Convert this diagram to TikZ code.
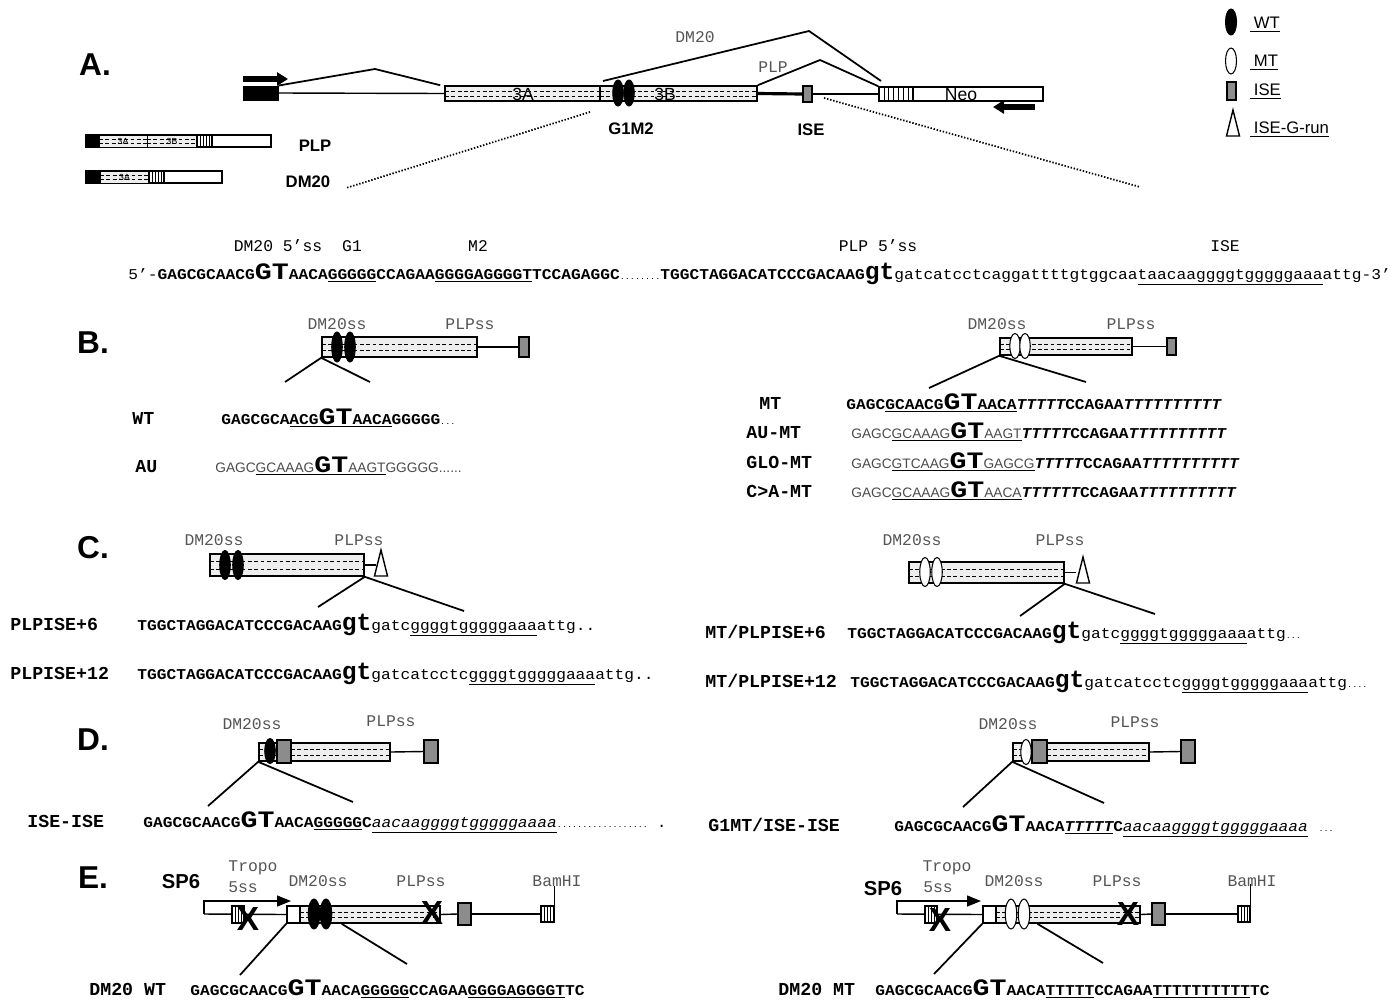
\documentclass[tikz,border=0pt]{standalone}
\usepackage{fontspec}
\setmainfont{Liberation Sans}
\newfontfamily\courfont{Liberation Mono}
\newfontfamily\seqfont[FakeStretch=1.08]{Liberation Mono}
\newfontfamily\widefont[FakeStretch=1.2]{Liberation Mono}
\usetikzlibrary{positioning,calc,arrows.meta,fit,shapes.geometric}
\definecolor{ink}{RGB}{0,0,0}
\definecolor{ssgray}{RGB}{85,85,85}
\definecolor{seqgray}{RGB}{75,75,75}
\definecolor{isegray}{RGB}{140,140,140}
\definecolor{exfill}{RGB}{238,238,238}
\tikzset{
  exon/.style={draw=ink, line width=0.9pt, fill=exfill, inner sep=0pt,
    path picture={
      \foreach \f in {0.35,0.68}{
        \draw[ink, line width=0.35pt, dash pattern=on 2.2pt off 1.4pt]
          ($(path picture bounding box.north west)!\f!(path picture bounding box.south west)$) --
          ($(path picture bounding box.north east)!\f!(path picture bounding box.south east)$);
      }}},
  minexon/.style={exon, line width=0.5pt},
  whitebox/.style={draw=ink, line width=0.9pt, fill=white, inner sep=0pt},
  blackbox/.style={draw=ink, line width=0.5pt, fill=ink, inner sep=0pt},
  isebox/.style={draw=ink, line width=0.9pt, fill=isegray, inner sep=0pt},
  stripebox/.style={draw=ink, line width=0.6pt, fill=white, inner sep=0pt,
    path picture={
      \foreach \i in {1,...,#1}{
        \pgfmathsetmacro\ff{\i/(#1+1)}
        \draw[ink, line width=0.4pt]
          ($(path picture bounding box.north west)!\ff!(path picture bounding box.north east)$) --
          ($(path picture bounding box.south west)!\ff!(path picture bounding box.south east)$);
      }}},
  stripebox/.default=3,
  wtdot/.style={ellipse, draw=ink, fill=ink, line width=0.6pt, minimum width=0.21cm, minimum height=0.5cm, inner sep=0pt},
  mtdot/.style={wtdot, fill=white},
  grun/.pic={\draw[line width=0.8pt, fill=white] (-6.5,0) -- (0,-26) -- (6.5,0) -- cycle;},
  panel/.style={font=\bfseries\fontsize{18}{18}\selectfont, inner sep=0pt},
  lbl/.style={font=\bfseries\fontsize{9.5}{10}\selectfont, inner sep=0pt},
  boxtxt/.style={font=\fontsize{10}{10}\selectfont, inner sep=0pt},
  tinytxt/.style={font=\fontsize{5}{5}\selectfont, inner sep=0pt},
  sslab/.style={font=\courfont\fontsize{9.3}{10}\selectfont, text=ssgray, inner sep=0pt},
  seqlab/.style={sslab, text=ink},
  rowlab/.style={font=\courfont\bfseries\fontsize{10.4}{11}\selectfont, anchor=base west, inner sep=0pt},
  seq/.style={anchor=base west, inner sep=0pt},
  legtxt/.style={font=\fontsize{9.5}{10}\selectfont, anchor=west, inner sep=0pt},
  sptext/.style={font=\bfseries\fontsize{11.5}{11.5}\selectfont, inner sep=0pt},
  xmark/.style={font=\bfseries\fontsize{19}{19}\selectfont, inner sep=0pt},
  intron/.style={line width=0.8pt},
  splice/.style={line width=1pt},
  zoomline/.style={line width=1pt},
  dotlink/.style={line width=1pt, dash pattern=on 0.8pt off 1pt},
  fatarrow/.style={line width=3pt, -{Triangle[length=0.22cm, width=0.26cm]}},
  bentarrow/.style={line width=0.8pt, -{Triangle[length=0.28cm, width=0.22cm]}},
}
% sequence fonts
\newcommand{\sq}[1]{{\seqfont\bfseries\fontsize{8.55}{9}\selectfont #1}}
\newcommand{\sqi}[1]{{\seqfont\bfseries\itshape\fontsize{8.55}{9}\selectfont #1}}
\newcommand{\lc}[1]{{\seqfont\fontsize{8.55}{9}\selectfont #1}}
\newcommand{\lci}[1]{{\seqfont\itshape\fontsize{8.55}{9}\selectfont #1}}
\newcommand{\gy}[1]{{\color{seqgray}\fontsize{7.8}{9}\selectfont #1}}
\newcommand{\dotrun}[1]{{\widefont\fontsize{4}{5}\selectfont #1}}
\newcommand{\capGT}{{\widefont\bfseries\fontsize{13.4}{14}\selectfont GT}}
\newcommand{\lowGT}{{\courfont\bfseries\fontsize{14}{14}\selectfont gt}}
% box from two corners
\newcommand{\Piece}[6]{%
  \coordinate (#2-tl) at (#3,#4); \coordinate (#2-br) at (#5,#6);
  \node[#1, fit=(#2-tl)(#2-br)] (#2) {};}

\begin{document}
\begin{tikzpicture}[x=0.02cm,y=-0.02cm]
  \fill[white, use as bounding box] (0,0) rectangle (1398,1001);

  % A: minigene
  \node[panel] (pA) at (95,65) {A.};
  \draw[fatarrow] (243,79) -- (288,79);
  \Piece{blackbox}{ex1}{243}{86}{278}{100}
  \Piece{exon}{e3A}{445}{86}{600}{101}
  \Piece{exon}{e3B}{600}{86}{757}{101}
  \node[boxtxt] at (523,94) {3A};
  \node[boxtxt] at (665,94) {3B};
  \node[wtdot, minimum height=0.52cm] (aG1) at (618,93) {};
  \node[wtdot, minimum height=0.52cm] (aM2) at (629,93) {};
  \Piece{isebox}{aISE}{803}{86}{812}{102}
  \Piece{whitebox}{neo}{879}{87}{1043}{101}
  \Piece{stripebox=6}{neoS}{879}{87}{913}{101}
  \node[boxtxt] at (961,95) {Neo};
  \draw[intron] (ex1.east) -- (e3A.west);
  \draw[line width=1.8pt] (e3B.east) -- (aISE.west);
  \draw[intron] (aISE.east) -- (neo.west);
  \draw[splice] (ex1.north east) -- (375,69) -- ([xshift=-0.08cm]e3A.north west);
  \draw[splice] (603,81) -- (809,31) -- (881,81);
  \draw[splice] (e3B.north east) -- (820,60) -- (neo.north west);
  \draw[fatarrow] (1035,107) -- (993,107);
  \node[sslab] at (695,37) {DM20};
  \node[sslab] at (773,67) {PLP};
  \node[lbl] at (631,129) {G1M2};
  \node[lbl] at (811,130) {ISE};

  % A: spliced products
  \Piece{whitebox}{tPLP}{86}{135}{271}{147}
  \Piece{blackbox}{tPLP1}{86}{135}{99}{147}
  \Piece{minexon}{tPLPa}{99}{135}{147}{147}
  \Piece{minexon}{tPLPb}{147}{135}{197}{147}
  \Piece{stripebox=4}{tPLPs}{197}{135}{212}{147}
  \node[tinytxt] at (tPLPa) {3A};
  \node[tinytxt] at (tPLPb) {3B};
  \node[lbl] at (315,146) {PLP};
  \Piece{whitebox}{tDM}{86}{171}{222}{183}
  \Piece{blackbox}{tDM1}{86}{171}{100}{183}
  \Piece{minexon}{tDMa}{100}{171}{149}{183}
  \Piece{stripebox=4}{tDMs}{149}{171}{164}{183}
  \node[tinytxt] at (tDMa) {3A};
  \node[lbl] at (308,182) {DM20};
  \coordinate (dotA1) at (590,112); \coordinate (dotA2) at (346,188);
  \draw[dotlink] (dotA1) -- (dotA2);
  \coordinate (dotB1) at (824,98); \coordinate (dotB2) at (1140,187);
  \draw[dotlink] (dotB1) -- (dotB2);

  % legend
  \node[wtdot, minimum height=0.52cm, minimum width=0.22cm] (legWT) at (1231,22) {};
  \node[legtxt] at (1250,25) {\underline{\hspace{2pt}WT}};
  \node[mtdot, minimum height=0.52cm, minimum width=0.22cm] (legMT) at (1231,61) {};
  \node[legtxt] at (1250,63) {\underline{\hspace{2pt}MT}};
  \Piece{isebox}{legISE}{1227}{82}{1236}{100}
  \node[legtxt] at (1250,92) {\underline{\hspace{2pt}ISE}};
  \pic (legG) at (1233,136) {grun};
  \node[legtxt] at (1250,130) {\underline{\hspace{2pt}ISE-G-run}};

  % A: sequence
  \node[seqlab] at (278,246) {DM20 5’ss};
  \node[seqlab] at (352,246) {G1};
  \node[seqlab] at (478,246) {M2};
  \node[seqlab] at (878,246) {PLP 5’ss};
  \node[seqlab] at (1225,246) {ISE};
  \node[seq] (seqMain) at (128,279) {\lc{5’-}\sq{GAGCGCAACG}\capGT\sq{AACA\underline{GGGGG}CCAGAA\underline{GGGGAGGGGT}TCCAGAGGC}\dotrun{........}\sq{TGGCTAGGACATCCCGACAAG}\lowGT\lc{gatcatcctcaggattttgtggcaa\underline{taacaaggggtgggggaaa}attg-3’}};

  % B
  \node[panel] (pB) at (93,343) {B.};
  \Piece{exon}{bWex}{322}{337}{477}{357}
  \node[wtdot, minimum height=0.6cm] (bWg) at (337,347) {};
  \node[wtdot, minimum height=0.6cm] (bWm) at (350,347) {};
  \Piece{isebox}{bWise}{519}{337}{529}{357}
  \draw[intron] (bWex.east) -- (bWise.west);
  \node[sslab] at (337,324) {DM20ss};
  \node[sslab] at (470,324) {PLPss};
  \coordinate (bWz1) at (285,382); \coordinate (bWz2) at (370,382);
  \draw[zoomline] (bWz1) -- (bWex.south west) -- (bWz2);
  \node[rowlab] at (132,424) {WT};
  \node[seq] at (221,424) {\sq{GAGCGCA\underline{ACG\capGT AACA}GGGGG}\dotrun{...}};
  \node[rowlab] at (135,472) {AU};
  \node[seq] at (215,472) {\gy{GAGC}\underline{\gy{GCAAAG}\capGT\gy{AAGT}}\gy{GGGGG......}};

  \Piece{exon}{bMex}{1000}{338}{1132}{355}
  \node[mtdot] (bMg) at (1015,346) {};
  \node[mtdot] (bMm) at (1025,346) {};
  \Piece{isebox}{bMise}{1167}{338}{1176}{355}
  \draw[intron] (bMex.east) -- (bMise.west);
  \node[sslab] at (997,324) {DM20ss};
  \node[sslab] at (1131,324) {PLPss};
  \coordinate (bMz1) at (929,388); \coordinate (bMz2) at (1086,382);
  \draw[zoomline] (bMz1) -- (bMex.south west) -- (bMz2);
  \node[rowlab] at (759,409) {MT};
  \node[seq] at (846,409) {\sq{GAGC}\underline{\sq{GCAACG}\capGT\sq{AACA}}\sqi{TTTTT}\sq{CCAGAA}\sqi{TTTTTTTTTT}};
  \node[rowlab] at (746,438) {AU-MT};
  \node[seq] at (851,438) {\gy{GAGC}\underline{\gy{GCAAAG}\capGT\gy{AAGT}}\sqi{TTTTT}\sq{CCAGAA}\sqi{TTTTTTTTTT}};
  \node[rowlab] at (746,468) {GLO-MT};
  \node[seq] at (851,468) {\gy{GAGC}\underline{\gy{GTCAAG}\capGT\gy{GAGCG}}\sqi{TTTTT}\sq{CCAGAA}\sqi{TTTTTTTTTT}};
  \node[rowlab] at (746,497) {C>A-MT};
  \node[seq] at (851,497) {\gy{GAGC}\underline{\gy{GCAAAG}\capGT\gy{AACA}}\sqi{TTTTTT}\sq{CCAGAA}\sqi{TTTTTTTTTT}};

  % C
  \node[panel] (pC) at (93,548) {C.};
  \Piece{exon}{cWex}{210}{554}{364}{576}
  \node[wtdot, minimum height=0.58cm] (cWg) at (225,565) {};
  \node[wtdot, minimum height=0.58cm] (cWm) at (238,565) {};
  \draw[intron] (cWex.east) -- ++(11,0);
  \pic (cWt) at (381,576) {grun};
  \node[sslab] at (214,540) {DM20ss};
  \node[sslab] at (359,540) {PLPss};
  \coordinate (cWz1) at (318,607); \coordinate (cWz2) at (464,611);
  \draw[zoomline] (cWz1) -- (cWex.south east) -- (cWz2);
  \node[rowlab] at (10,630) {PLPISE+6};
  \node[seq] at (137,630) {\sq{TGGCTAGGACATCCCGACAAG}\lowGT\lc{gatc\underline{ggggtgggggaaa}attg..}};
  \node[rowlab] at (10,679) {PLPISE+12};
  \node[seq] at (137,679) {\sq{TGGCTAGGACATCCCGACAAG}\lowGT\lc{gatcatcctc\underline{ggggtgggggaaa}attg..}};

  \Piece{exon}{cMex}{909}{562}{1064}{583}
  \node[mtdot, minimum height=0.58cm] (cMg) at (925,572) {};
  \node[mtdot, minimum height=0.58cm] (cMm) at (937,572) {};
  \draw[intron] (cMex.east) -- ++(11,0);
  \pic (cMt) at (1083,583) {grun};
  \node[sslab] at (912,540) {DM20ss};
  \node[sslab] at (1060,540) {PLPss};
  \coordinate (cMz1) at (1020,616); \coordinate (cMz2) at (1155,614);
  \draw[zoomline] (cMz1) -- (cMex.south east) -- (cMz2);
  \node[rowlab] at (705,638) {MT/PLPISE+6};
  \node[seq] at (847,638) {\sq{TGGCTAGGACATCCCGACAAG}\lowGT\lc{gatc\underline{ggggtgggggaaa}attg}\dotrun{...}};
  \node[rowlab] at (705,687) {MT/PLPISE+12};
  \node[seq] at (850,687) {\sq{TGGCTAGGACATCCCGACAAG}\lowGT\lc{gatcatcctc\underline{ggggtgggggaaa}attg}\dotrun{....}};

  % D
  \node[panel] (pD) at (93,740) {D.};
  \Piece{exon}{dWa}{259}{743}{277}{761}
  \node[wtdot] (dWg) at (270,751) {};
  \Piece{isebox}{dWi}{277}{740}{291}{763}
  \Piece{exon}{dWex}{291}{743}{390}{761}
  \Piece{isebox}{dWj}{424}{740}{438}{763}
  \draw[intron] (dWex.east) -- (dWj.west);
  \node[sslab] at (252,724) {DM20ss};
  \node[sslab] at (391,721) {PLPss};
  \coordinate (dWz1) at (208,806); \coordinate (dWz2) at (353,802);
  \draw[zoomline] (dWz1) -- (dWa.south west) -- (dWz2);
  \node[rowlab] at (27,827) {ISE-ISE};
  \node[seq] at (143,827) {\sq{GAGCGCAACG}\capGT\sq{AACA\underline{GGGGG}C}\underline{\lci{aacaaggggtgggggaaaa}}\dotrun{..................}\hspace{5pt}\lc{.}};

  \Piece{exon}{dMa}{1013}{743}{1025}{761}
  \node[mtdot] (dMg) at (1026,752) {};
  \Piece{isebox}{dMi}{1032}{740}{1047}{763}
  \Piece{exon}{dMex}{1047}{743}{1149}{761}
  \Piece{isebox}{dMj}{1181}{740}{1195}{763}
  \draw[intron] (dMex.east) -- (dMj.west);
  \node[sslab] at (1008,724) {DM20ss};
  \node[sslab] at (1135,722) {PLPss};
  \coordinate (dMz1) at (963,807); \coordinate (dMz2) at (1104,803);
  \draw[zoomline] (dMz1) -- (dMa.south west) -- (dMz2);
  \node[rowlab] at (708,831) {G1MT/ISE-ISE};
  \node[seq] at (894,831) {\sq{GAGCGCAACG}\capGT\sq{AACA}\underline{\sqi{TTTTT}}\sq{C}\underline{\lci{aacaaggggtgggggaaaa}}\hspace{6pt}\dotrun{...}};

  % E
  \node[panel] (pE) at (93,878) {E.};
  \node[sptext] at (181,882) {SP6};
  \node[sslab] at (253,868) {Tropo};
  \node[sslab] at (243,887) {5ss};
  \node[sslab] at (318,881) {DM20ss};
  \node[sslab] at (421,881) {PLPss};
  \node[sslab] at (557,881) {BamHI};
  \coordinate (eWp) at (204,914);
  \Piece{whitebox}{eWw}{287}{906}{300}{923}
  \Piece{exon}{eWex}{300}{906}{440}{923}
  \Piece{isebox}{eWi}{458}{903}{471}{925}
  \Piece{stripebox}{eWb}{541}{906}{554}{922}
  \draw[intron] (eWp) -- (eWw.west);
  \draw[intron] (eWex.east) -- (eWi.west);
  \draw[intron] (eWi.east) -- (eWb.west);
  \draw[intron] (eWb.north east) -- ++(0,-19);
  \Piece{stripebox}{eWt}{232}{906}{244}{923}
  \draw[bentarrow] (eWp) -- ++(0,-13) -- ++(87,0);
  \node[wtdot, minimum height=0.6cm, minimum width=0.23cm] (eWg) at (314,914) {};
  \node[wtdot, minimum height=0.6cm, minimum width=0.23cm] (eWm) at (326,914) {};
  \node[xmark] (eWx1) at (248,919) {X};
  \node[xmark] (eWx2) at (432,913) {X};
  \coordinate (eWz1) at (240,975); \coordinate (eWz2) at (407,964);
  \draw[zoomline] (eWw.south west) -- (eWz1);
  \draw[zoomline] ($(eWex.south west)!0.3!(eWex.south east)$) -- (eWz2);
  \node[rowlab] at (89,995) {DM20 WT};
  \node[seq] at (190,995) {\sq{GAGCGCAACG}\capGT\sq{AACA\underline{GGGGG}CCAGAA\underline{GGGGAGGGGT}TC}};

  \node[sptext] at (883,889) {SP6};
  \node[sslab] at (947,868) {Tropo};
  \node[sslab] at (938,887) {5ss};
  \node[sslab] at (1014,881) {DM20ss};
  \node[sslab] at (1117,881) {PLPss};
  \node[sslab] at (1252,881) {BamHI};
  \coordinate (eMp) at (897,914);
  \Piece{whitebox}{eMw}{983}{906}{996}{923}
  \Piece{exon}{eMex}{996}{906}{1140}{923}
  \Piece{isebox}{eMi}{1152}{903}{1165}{925}
  \Piece{stripebox}{eMb}{1238}{906}{1250}{922}
  \draw[intron] (eMp) -- (eMw.west);
  \draw[intron] (eMex.east) -- (eMi.west);
  \draw[intron] (eMi.east) -- (eMb.west);
  \draw[intron] (eMb.north east) -- ++(0,-21);
  \Piece{stripebox}{eMt}{925}{906}{937}{923}
  \draw[bentarrow] (eMp) -- ++(0,-13) -- ++(84,0);
  \node[mtdot, minimum height=0.6cm, minimum width=0.23cm] (eMg) at (1011,914) {};
  \node[mtdot, minimum height=0.6cm, minimum width=0.23cm] (eMm) at (1024,914) {};
  \node[xmark] (eMx1) at (940,920) {X};
  \node[xmark] (eMx2) at (1128,914) {X};
  \coordinate (eMz1) at (934,974); \coordinate (eMz2) at (1103,963);
  \draw[zoomline] (eMw.south west) -- (eMz1);
  \draw[zoomline] ($(eMex.south west)!0.29!(eMex.south east)$) -- (eMz2);
  \node[rowlab] at (778,995) {DM20 MT};
  \node[seq] at (875,995) {\sq{GAGCGCAACG}\capGT\sq{AACA\underline{TTTTT}CCAGAA\underline{TTTTTTTTTT}TC}};
\end{tikzpicture}
\end{document}
